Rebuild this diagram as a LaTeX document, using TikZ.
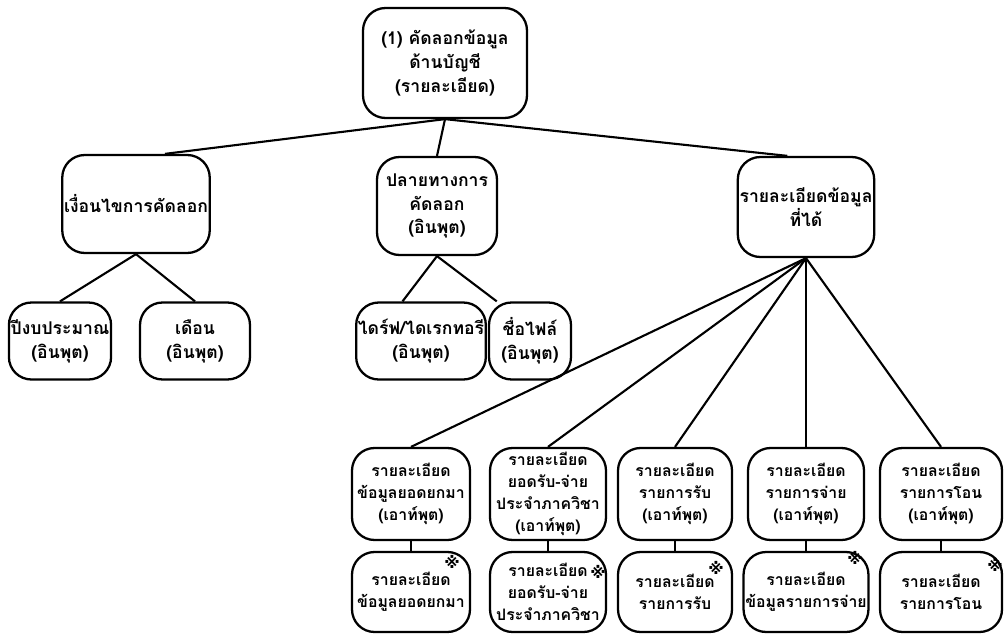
\documentclass[tikz,border=0pt]{standalone}
\usepackage{fontspec}
\setmainfont[Script=Thai]{Loma}
\newfontfamily\markfont{DejaVu Sans}
\usetikzlibrary{positioning}

\begin{document}
\begin{tikzpicture}[x=0.02cm,y=-0.02cm,
  box/.style={draw,line width=1.3pt,rounded corners=0.45cm,align=center,inner sep=1pt,
    font=\bfseries\fontsize{10}{13.6}\selectfont},
  sbox/.style={box,font=\bfseries\fontsize{9}{12.6}\selectfont},
  link/.style={line width=1.2pt},
  refmark/.style={font=\markfont\bfseries\small,inner sep=0pt}]
  \useasboundingbox[fill=white] (0,0) rectangle (1006,635);

  \node[box,minimum width=3.28cm,minimum height=2.2cm] (root) at (445,63)
    {(1) คัดลอกข้อมูล\\ด้านบัญชี\\(รายละเอียด)};

  \node[box,minimum width=2.54cm,minimum height=1.96cm] (cond) at (136,204) {เงื่อนไขการคัดลอก};
  \node[box,minimum width=2.4cm,minimum height=1.96cm] (dest) at (437,206) {ปลายทางการ\\คัดลอก\\(อินพุต)};
  \node[box,minimum width=2.46cm,minimum height=2cm] (info) at (806,207) {รายละเอียดข้อมูล\\ที่ได้};

  \node[box,minimum width=2cm,minimum height=1.54cm] (fyear) at (60,341) {ปีงบประมาณ\\(อินพุต)};
  \node[box,minimum width=2.2cm,minimum height=1.54cm] (month) at (195,341) {เดือน\\(อินพุต)};
  \node[box,minimum width=2.06cm,minimum height=1.54cm] (drive) at (421,341) {ไดร์ฟ/ไดเรกทอรี\\(อินพุต)};
  \node[box,minimum width=1.64cm,minimum height=1.54cm] (fname) at (530,341) {ชื่อไฟล์\\(อินพุต)};

  \node[sbox,minimum width=2.36cm,minimum height=1.84cm] (out1) at (411,494) {รายละเอียด\\ข้อมูลยอดยกมา\\(เอาท์พุต)};
  \node[sbox,minimum width=2.32cm,minimum height=1.84cm] (out2) at (548,494) {รายละเอียด\\ยอดรับ-จ่าย\\ประจำภาควิชา\\(เอาท์พุต)};
  \node[sbox,minimum width=2.28cm,minimum height=1.84cm] (out3) at (675,494) {รายละเอียด\\รายการรับ\\(เอาท์พุต)};
  \node[sbox,minimum width=2.32cm,minimum height=1.84cm] (out4) at (806,494) {รายละเอียด\\รายการจ่าย\\(เอาท์พุต)};
  \node[sbox,minimum width=2.44cm,minimum height=1.84cm] (out5) at (941,494) {รายละเอียด\\รายการโอน\\(เอาท์พุต)};

  \node[sbox,minimum width=2.36cm,minimum height=1.6cm] (rep1) at (411,592) {รายละเอียด\\ข้อมูลยอดยกมา};
  \node[sbox,minimum width=2.32cm,minimum height=1.6cm] (rep2) at (548,592) {รายละเอียด\\ยอดรับ-จ่าย\\ประจำภาควิชา};
  \node[sbox,minimum width=2.28cm,minimum height=1.6cm] (rep3) at (675,592) {รายละเอียด\\รายการรับ};
  \node[sbox,minimum width=2.32cm,minimum height=1.6cm] (rep4) at (806,592) {รายละเอียด\\ข้อมูลรายการจ่าย};
  \node[sbox,minimum width=2.44cm,minimum height=1.6cm] (rep5) at (941,592) {รายละเอียด\\รายการโอน};

  \node[refmark] (m1) at (452,562) {※};
  \node[refmark] (m2) at (598,572) {※};
  \node[refmark] (m3) at (716,568) {※};
  \node[refmark] (m4) at (855,558) {※};
  \node[refmark] (m5) at (995,565) {※};

  \draw[link] (root.south) -- (cond.60);
  \draw[link] (root.south) -- (dest.north);
  \draw[link] (root.south) -- (info.110);
  \draw[link] (cond.south) -- (fyear.north);
  \draw[link] (cond.south) -- (month.north);
  \draw[link] (dest.south) -- (drive.115);
  \draw[link] (dest.south) -- (fname.130);
  \foreach \i in {1,...,5} {
    \draw[link] (info.south) -- (out\i.north);
    \draw[link] (out\i.south) -- (rep\i.north);
  }
\end{tikzpicture}
\end{document}
